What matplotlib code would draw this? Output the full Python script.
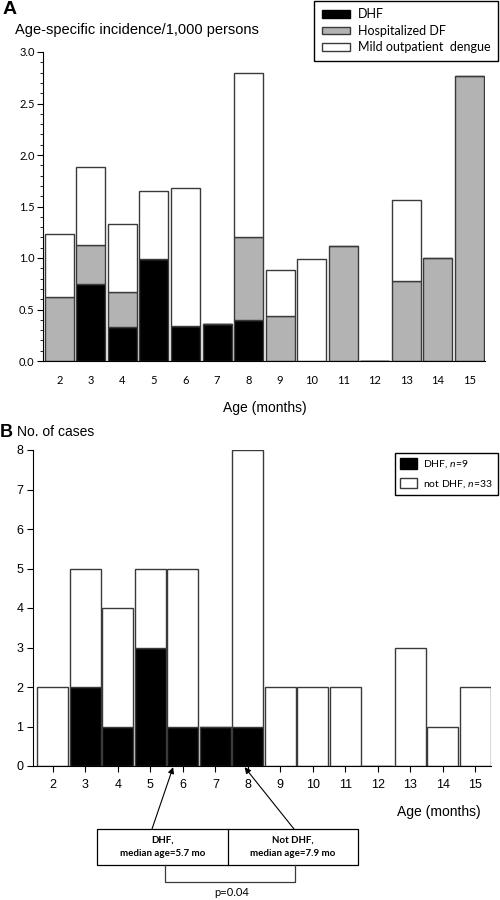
import numpy as np
import matplotlib
matplotlib.use('Agg')
import matplotlib.pyplot as plt
from matplotlib.patches import Patch, Rectangle
from matplotlib.lines import Line2D

plt.rcParams['mathtext.fontset'] = 'custom'
plt.rcParams['mathtext.it'] = 'Lato:italic'
plt.rcParams['mathtext.rm'] = 'Lato'

# Datos
months = list(range(2, 16))
month_labels = [str(m) for m in months]

# Panel A: incidencia por edad / 1,000 personas
dhf_inc = [0, 0.75, 0.33, 0.99, 0.34, 0.36, 0.40, 0, 0, 0, 0, 0, 0, 0]
hosp_inc = [0.62, 0.38, 0.34, 0, 0, 0, 0.80, 0.44, 0, 1.12, 0, 0.78, 1.0, 2.77]
mild_inc = [0.61, 0.75, 0.66, 0.66, 1.34, 0, 1.60, 0.44, 0.99, 0, 0, 0.78, 0, 0]

# Panel B: numero de casos
dhf_cases = [0, 2, 1, 3, 1, 1, 1, 0, 0, 0, 0, 0, 0, 0]
notdhf_cases = [2, 3, 3, 2, 4, 0, 7, 2, 2, 2, 0, 3, 1, 2]
median_dhf = 5.7
median_notdhf = 7.9
p_value = 0.04

ARIAL = 'Liberation Sans'
CALIBRI = 'Lato'
EDGE = '#3a3a3a'
GRAY = '#b3b3b3'

W, H = 500, 900
def fx(px):
    return px / W
def fy(py):
    return 1 - py / H

fig = plt.figure(figsize=(5, 9), dpi=100)

# ---------------- Panel A ----------------
axA = fig.add_axes([fx(43), fy(361), fx(485) - fx(43), fy(52) - fy(361)])
x = np.array(months)
dhf_a = np.array(dhf_inc)
hosp_a = np.array(hosp_inc)
mild_a = np.array(mild_inc)
kw = dict(width=0.92, edgecolor=EDGE, linewidth=1.0)
axA.bar(x, dhf_a, color='black', **kw)
axA.bar(x, hosp_a, bottom=dhf_a, color=GRAY, **kw)
axA.bar(x, mild_a, bottom=dhf_a + hosp_a, color='white', **kw)

axA.set_xlim(1.48, 15.5)
axA.set_ylim(0, 3.0)
axA.spines['top'].set_visible(False)
axA.spines['right'].set_visible(False)
axA.set_xticks(months)
axA.set_xticklabels(month_labels, fontfamily=CALIBRI, fontsize=8)
axA.tick_params(axis='x', length=0, pad=10)
axA.set_yticks(np.arange(0, 3.01, 0.5))
axA.set_yticklabels(['%.1f' % v for v in np.arange(0, 3.01, 0.5)], fontfamily=CALIBRI, fontsize=8)
axA.set_yticks(np.arange(0, 3.01, 0.1), minor=True)
axA.tick_params(axis='y', which='major', length=4, pad=2)
axA.tick_params(axis='y', which='minor', length=2)

fig.text(fx(3), fy(10), 'A', fontfamily=ARIAL, fontweight='bold', fontsize=14, va='center', ha='left')
fig.text(fx(15), fy(30), 'Age-specific incidence/1,000 persons', fontfamily=ARIAL, fontsize=10.5, va='center')
fig.text(fx(265), fy(408), 'Age (months)', fontfamily=ARIAL, fontsize=10, va='center', ha='center')

handlesA = [Patch(facecolor='black', edgecolor='black', linewidth=1),
            Patch(facecolor=GRAY, edgecolor=EDGE, linewidth=1),
            Patch(facecolor='white', edgecolor=EDGE, linewidth=1)]
legA = axA.legend(handlesA, ['DHF', 'Hospitalized DF', 'Mild outpatient  dengue'],
                  loc='upper right', bbox_to_anchor=(fx(498), fy(1)), bbox_transform=fig.transFigure,
                  prop={'family': CALIBRI, 'size': 9}, fancybox=False, framealpha=1,
                  edgecolor='black', borderaxespad=0, handlelength=2.3, handleheight=0.6,
                  labelspacing=0.35, borderpad=0.6, handletextpad=0.6)
legA.get_frame().set_linewidth(1.0)

# ---------------- Panel B ----------------
axB = fig.add_axes([fx(33), fy(766), fx(491) - fx(33), fy(450) - fy(766)])
dhf_b = np.array(dhf_cases)
not_b = np.array(notdhf_cases)
kwb = dict(width=0.95, edgecolor=EDGE, linewidth=1.0)
axB.bar(x, dhf_b, color='black', **kwb)
axB.bar(x, not_b, bottom=dhf_b, color='white', **kwb)

axB.set_xlim(1.39, 15.48)
axB.set_ylim(0, 8)
axB.spines['top'].set_visible(False)
axB.spines['right'].set_visible(False)
axB.set_xticks(months)
axB.set_xticklabels(month_labels, fontfamily=ARIAL, fontsize=9)
axB.set_yticks(range(0, 9))
axB.set_yticklabels([str(v) for v in range(0, 9)], fontfamily=ARIAL, fontsize=9)
axB.tick_params(axis='x', length=4, pad=5)
axB.tick_params(axis='y', length=4, pad=3)

fig.text(fx(0), fy(433), 'B', fontfamily=ARIAL, fontweight='bold', fontsize=13, va='center', ha='left')
fig.text(fx(17), fy(432), 'No. of cases', fontfamily=ARIAL, fontsize=10, va='center')
fig.text(fx(481), fy(812), 'Age (months)', fontfamily=ARIAL, fontsize=10, va='center', ha='right')

handlesB = [Patch(facecolor='black', edgecolor='black', linewidth=1),
            Patch(facecolor='white', edgecolor=EDGE, linewidth=1)]
legB = axB.legend(handlesB, ['DHF, $n$=9', 'not DHF, $n$=33'],
                  loc='upper right', bbox_to_anchor=(fx(498), fy(453)), bbox_transform=fig.transFigure,
                  prop={'family': CALIBRI, 'size': 7.5}, fancybox=False, framealpha=1,
                  edgecolor='black', borderaxespad=0, handlelength=1.6, handleheight=1.2,
                  labelspacing=0.7, borderpad=0.5, handletextpad=0.6)
legB.get_frame().set_linewidth(1.0)

# Cuadro de medianas
box_l, box_r, box_m = 97, 358, 228
box_t, box_b = 829, 865
fig.add_artist(Rectangle((fx(box_l), fy(box_b)), fx(box_r) - fx(box_l), fy(box_t) - fy(box_b),
                         transform=fig.transFigure, fill=False, edgecolor='black', linewidth=0.9))
fig.add_artist(Line2D([fx(box_m), fx(box_m)], [fy(box_t), fy(box_b)], transform=fig.transFigure,
                      color='black', linewidth=0.9))
fig.text(fx((box_l + box_m) / 2), fy(847), 'DHF,\nmedian age=%.1f mo' % median_dhf,
         fontfamily=CALIBRI, fontweight='bold', fontsize=7, ha='center', va='center', linespacing=1.6)
fig.text(fx((box_m + box_r) / 2), fy(847), 'Not DHF,\nmedian age=%.1f mo' % median_notdhf,
         fontfamily=CALIBRI, fontweight='bold', fontsize=7, ha='center', va='center', linespacing=1.6)

arrow = dict(arrowstyle='-|>', color='black', lw=0.8, shrinkA=0, shrinkB=0, mutation_scale=9)
axB.annotate('', xy=(median_dhf, -0.03), xycoords='data',
             xytext=(fx(152), fy(box_t)), textcoords='figure fraction', arrowprops=arrow, annotation_clip=False)
axB.annotate('', xy=(median_notdhf, -0.03), xycoords='data',
             xytext=(fx(294), fy(box_t)), textcoords='figure fraction', arrowprops=arrow, annotation_clip=False)

# Corchete con valor p
fig.add_artist(Line2D([fx(165), fx(165), fx(295), fx(295)], [fy(box_b), fy(882), fy(882), fy(box_b)],
                      transform=fig.transFigure, color=EDGE, linewidth=0.9))
fig.text(fx(232), fy(893), 'p=%.2f' % p_value, fontfamily=CALIBRI, fontsize=8, ha='center', va='center')

fig.savefig('out.png', dpi=100)
